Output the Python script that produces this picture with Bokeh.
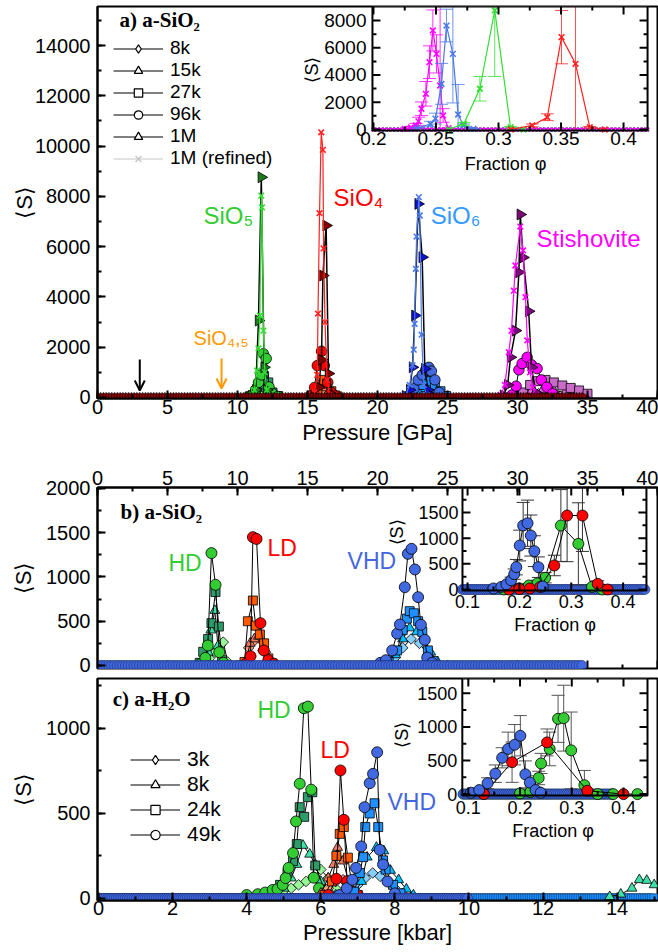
import numpy as np
from bokeh.plotting import figure
from bokeh.models import (Range1d, Legend, LegendItem, Arrow, OpenHead,
                          ColumnDataSource, SingleIntervalTicker)
from bokeh.layouts import column
from bokeh.embed import file_html
from bokeh.resources import INLINE
from bokeh.core.properties import value

SANS = "Liberation Sans"
SERIF = "Liberation Serif"

# ======================= DATA =======================
# ---- panel a) a-SiO2 : <S> vs pressure [GPa] ----
A_SIO5 = {
    "8k":  ([10.6, 11.0, 11.4, 11.8, 12.2, 12.6, 13.0], [20, 60, 150, 250, 200, 90, 30]),
    "15k": ([10.8, 11.2, 11.6, 12.0, 12.4, 12.8], [40, 150, 350, 420, 200, 60]),
    "27k": ([10.9, 11.3, 11.6, 11.9, 12.2, 12.5, 12.9], [50, 250, 550, 850, 600, 200, 60]),
    "96k": ([11.0, 11.3, 11.5, 11.7, 11.85, 12.05, 12.25, 12.5, 12.9], [80, 300, 600, 900, 1740, 1550, 420, 150, 40]),
    "1M":  ([11.0, 11.3, 11.5, 11.7, 11.9, 12.1, 12.4], [60, 300, 3060, 8760, 1200, 300, 60]),
    "ref": ([11.0, 11.2, 11.4, 11.5, 11.6, 11.7, 11.75, 11.85, 11.95, 12.1, 12.3],
            [100, 300, 1070, 1950, 3260, 8030, 7560, 2660, 1000, 300, 80]),
}
A_SIO4 = {
    "8k":  ([15.0, 15.4, 15.8, 16.2, 16.6, 17.0, 17.4], [30, 80, 200, 280, 200, 80, 30]),
    "15k": ([15.2, 15.6, 16.0, 16.3, 16.6, 17.0], [60, 200, 400, 380, 200, 60]),
    "27k": ([15.3, 15.7, 16.0, 16.2, 16.4, 16.7, 17.0], [80, 300, 650, 700, 550, 250, 80]),
    "96k": ([15.3, 15.5, 15.7, 16.0, 16.2, 16.45, 16.7, 17.0], [80, 400, 1270, 1840, 1270, 600, 200, 60]),
    "1M":  ([15.5, 15.8, 16.0, 16.1, 16.33, 16.5, 16.8], [80, 400, 1500, 4850, 6840, 950, 100]),
    "ref": ([15.5, 15.7, 15.75, 15.86, 15.98, 16.1, 16.15, 16.25, 16.4, 16.6],
            [200, 900, 3340, 7330, 10550, 9850, 5930, 3000, 700, 100]),
}
A_SIO6 = {
    "8k":  ([22.0, 22.6, 23.2, 23.8, 24.4, 25.0], [30, 100, 200, 250, 150, 50]),
    "15k": ([22.2, 22.7, 23.2, 23.7, 24.2, 24.7], [50, 200, 350, 400, 250, 80]),
    "27k": ([22.4, 22.8, 23.2, 23.5, 23.8, 24.1, 24.5, 24.9], [50, 250, 500, 700, 650, 500, 250, 60]),
    "96k": ([22.3, 22.6, 22.9, 23.2, 23.45, 23.67, 23.85, 24.1, 24.4], [100, 350, 700, 900, 1100, 1200, 1050, 700, 200]),
    "1M":  ([22.0, 22.3, 22.5, 22.67, 22.9, 23.19, 23.38, 23.6, 23.9], [60, 300, 1200, 3260, 7700, 5580, 1140, 300, 60]),
    "ref": ([22.0, 22.3, 22.5, 22.59, 22.65, 22.74, 22.79, 22.95, 23.02, 23.15, 23.3, 23.5],
            [100, 500, 1280, 1900, 2930, 5120, 6400, 7970, 7240, 2500, 500, 100]),
}
A_STI = {
    "8k":  ([29.5, 30.5, 31.5, 32.5, 33.5, 34.5], [20, 80, 150, 180, 130, 60]),
    "15k": ([29.5, 30.3, 31.0, 31.8, 32.6, 33.4, 34.2, 35.0], [30, 120, 250, 300, 280, 200, 120, 50]),
    "27k": ([29.8, 30.4, 30.9, 31.4, 32.0, 32.6, 33.2, 33.8, 34.4, 35.0], [40, 200, 500, 650, 700, 600, 480, 380, 280, 150]),
    "96k": ([29.6, 29.9, 30.1, 30.33, 30.69, 31.0, 31.4, 31.7, 32.1, 32.5], [100, 450, 1100, 1350, 1600, 1300, 1150, 700, 410, 150]),
    "1M":  ([29.0, 29.3, 29.5, 29.86, 30.1, 30.2, 30.4, 30.8, 31.0, 31.3], [80, 500, 1600, 2660, 4980, 7280, 5570, 3430, 1200, 200]),
    "ref": ([28.8, 29.1, 29.38, 29.57, 29.74, 29.85, 30.2, 30.4, 30.57, 30.7, 30.9, 31.1, 31.3],
            [100, 500, 1800, 2660, 4250, 5250, 6800, 5850, 3990, 2270, 1000, 400, 100]),
}
A_BASE_P = np.arange(0.0, 34.81, 0.2)          # pressures where <S> ~ 0

# inset a: <S> vs fraction phi (1M refined), with error
IA_MAG = ([0.225, 0.23, 0.234, 0.236, 0.2384, 0.2419, 0.2448, 0.2475, 0.2504, 0.2533, 0.2557, 0.26],
          [50, 150, 300, 600, 1520, 2620, 4940, 7270, 5550, 3230, 1030, 100],
          [30, 80, 150, 300, 500, 900, 1200, 1500, 1400, 6000, 500, 50])
IA_BLU = ([0.235, 0.2456, 0.2496, 0.2544, 0.2584, 0.2635, 0.2677, 0.272, 0.28],
          [100, 400, 800, 3350, 7630, 5550, 1100, 300, 50],
          [50, 200, 400, 1500, 1200, 3600, 2200, 100, 20])
IA_GRN = ([0.26, 0.2723, 0.2851, 0.297, 0.3096, 0.32],
          [0, 420, 2990, 8740, 170, 0],
          [0, 100, 900, 4850, 50, 0])
IA_RED = ([0.31, 0.327, 0.339, 0.3504, 0.3616, 0.373, 0.385],
          [0, 300, 900, 6780, 4820, 170, 0],
          [0, 100, 250, 1960, 9000, 50, 0])
IA_BASE = np.arange(0.2, 0.4201, 0.003)

# ---- panel b) a-SiO2 ----
B_HD = {
    "8k":  ([7.6, 8.0, 8.4, 8.8, 8.98, 9.3], [20, 80, 150, 230, 264, 40]),
    "15k": ([7.6, 7.9, 8.1, 8.38, 8.6, 8.9], [30, 150, 400, 621, 220, 40]),
    "27k": ([7.3, 7.55, 7.9, 8.14, 8.43, 8.67, 8.9], [30, 155, 300, 478, 830, 440, 60]),
    "96k": ([7.4, 7.7, 7.88, 8.14, 8.43, 8.7, 9.0], [20, 85, 226, 1270, 912, 150, 30]),
}
B_LD = {
    "8k":  ([10.4, 10.8, 11.2, 11.6, 12.0, 12.4], [30, 200, 280, 300, 150, 40]),
    "15k": ([10.6, 10.9, 11.2, 11.5, 11.8, 12.1], [40, 250, 300, 330, 200, 60]),
    "27k": ([10.5, 10.74, 11.1, 11.3, 11.6, 11.9, 12.2, 12.5], [40, 500, 734, 450, 350, 250, 80, 20]),
    "96k": ([10.6, 10.93, 11.1, 11.36, 11.64, 11.88, 12.2, 12.6], [20, 105, 1450, 1430, 478, 170, 60, 20]),
}
B_VHD = {
    "8k":  ([20.5, 21.2, 21.8, 22.4, 23.0, 23.6, 24.2], [20, 80, 200, 300, 250, 120, 30]),
    "15k": ([20.6, 21.3, 21.8, 22.3, 22.8, 23.3, 23.8, 24.3], [30, 120, 300, 424, 380, 330, 150, 40]),
    "27k": ([20.8, 21.4, 21.8, 22.1, 22.3, 22.6, 22.9, 23.2, 23.6, 24.0], [40, 170, 400, 530, 614, 590, 500, 380, 170, 50]),
    "96k": ([20.2, 20.6, 21.05, 21.4, 21.6, 21.95, 22.17, 22.43, 22.67, 22.9, 23.1, 23.38, 23.55, 23.9],
            [30, 60, 170, 360, 463, 885, 1262, 1318, 1085, 772, 460, 290, 90, 30]),
}
B_BASE_P = np.arange(0.0, 34.61, 0.2)

IB_BLU = ([0.15, 0.165, 0.175, 0.184, 0.19, 0.194, 0.2006, 0.2072, 0.2157, 0.222, 0.2288, 0.2366, 0.245],
          [20, 50, 100, 180, 300, 435, 857, 1247, 1292, 1052, 747, 435, 60],
          [10, 20, 40, 60, 100, 150, 300, 450, 450, 400, 300, 200, 40])
IB_RED = ([0.18, 0.2, 0.22, 0.24, 0.2673, 0.292, 0.3216, 0.351, 0.37],
          [0, 10, 20, 50, 468, 1442, 1442, 110, 0],
          [0, 5, 10, 20, 200, 900, 700, 60, 0])
IB_GRN = ([0.17, 0.2, 0.2183, 0.235, 0.2496, 0.28, 0.3137, 0.34, 0.36],
          [0, 20, 78, 120, 228, 1247, 890, 50, 0],
          [0, 10, 40, 60, 100, 700, 800, 40, 0])
IB_BASE = np.arange(0.09, 0.4451, 0.004)

# ---- panel c) a-H2O : <S> vs pressure [kbar] ----
C_HD = {
    "3k":  ([4.6, 4.8, 5.0, 5.2, 5.4, 5.6, 5.8, 6.0, 6.2, 6.4], [20, 30, 45, 60, 80, 100, 130, 170, 120, 60]),
    "8k":  ([4.8, 5.0, 5.2, 5.35, 5.52, 5.7, 5.85, 6.0, 6.2, 6.4], [30, 60, 120, 200, 312, 260, 200, 100, 40, 20]),
    "24k": ([4.6, 4.9, 5.1, 5.25, 5.35, 5.43, 5.55, 5.65, 5.77, 5.85, 6.1], [30, 80, 150, 220, 320, 537, 480, 596, 625, 194, 50]),
    "49k": ([4.0, 4.3, 4.5, 4.7, 4.83, 4.97, 5.05, 5.13, 5.25, 5.33, 5.43, 5.54, 5.65, 5.74, 5.81, 5.95, 6.1],
            [20, 25, 35, 50, 55, 80, 120, 180, 267, 453, 675, 1119, 1129, 640, 122, 60, 30]),
}
C_HD_HIGH = ([13.8, 14.1, 14.4, 14.6, 14.8, 15.0], [10, 25, 60, 110, 106, 80])
C_LD = {
    "3k":  ([6.0, 6.2, 6.4, 6.6, 6.8, 7.0], [20, 60, 100, 110, 70, 20]),
    "8k":  ([6.0, 6.2, 6.35, 6.45, 6.6, 6.75, 6.9], [30, 120, 200, 300, 220, 100, 20]),
    "24k": ([6.1, 6.3, 6.42, 6.51, 6.62, 6.73, 6.85, 7.0], [20, 100, 250, 380, 420, 240, 60, 20]),
    "49k": ([6.2, 6.42, 6.53, 6.62, 6.71, 6.85, 7.0], [20, 116, 753, 463, 102, 40, 20]),
}
C_VHD = {
    "3k":  ([6.8, 7.0, 7.2, 7.4, 7.6, 7.8, 8.0, 8.2], [30, 80, 120, 150, 130, 100, 60, 30]),
    "8k":  ([6.9, 7.1, 7.25, 7.5, 7.7, 7.88, 8.1, 8.31, 8.5], [30, 100, 243, 300, 280, 165, 110, 55, 20]),
    "24k": ([6.9, 7.05, 7.14, 7.2, 7.32, 7.45, 7.55, 7.68, 7.75, 7.95, 8.15], [40, 150, 243, 420, 500, 560, 420, 224, 170, 80, 30]),
    "49k": ([6.5, 6.7, 6.85, 6.95, 7.09, 7.18, 7.32, 7.41, 7.52, 7.59, 7.68, 7.8, 8.0],
            [20, 60, 110, 180, 306, 537, 678, 733, 860, 286, 200, 100, 30]),
}
C_BASE_SQ = np.arange(0.0, 15.01, 0.06)
C_BASE_CI = np.arange(0.0, 10.01, 0.06)

IC_BLU = ([0.105, 0.121, 0.1373, 0.1522, 0.1654, 0.177, 0.1896, 0.2006, 0.2103, 0.219, 0.23, 0.24],
          [20, 60, 162, 304, 540, 672, 735, 868, 294, 172, 60, 20],
          [10, 30, 80, 130, 150, 250, 300, 300, 200, 100, 40, 10])
IC_RED = ([0.13, 0.1846, 0.2522, 0.33, 0.40], [0, 475, 769, 50, 0], [0, 300, 200, 0, 0])
IC_GRN = ([0.2, 0.22, 0.236, 0.2406, 0.2573, 0.2735, 0.2844, 0.2989, 0.3244, 0.35, 0.38, 0.427],
          [10, 30, 240, 456, 672, 1120, 1130, 651, 132, 0, 0, 0],
          [5, 20, 100, 150, 250, 350, 490, 570, 220, 0, 0, 0])
IC_BASE = np.arange(0.09, 0.381, 0.004)

# ======================= STYLE =======================
SHAPE = {"diamond": ("square", np.pi / 4, 7.5), "triangle": ("triangle", 0.0, 10),
         "square": ("square", 0.0, 9), "circle": ("circle", 0.0, 10.5),
         "tri_r": ("triangle", -np.pi / 2, 11), "x": ("x", 0.0, 8)}
LEG_MARK = {"diamond": "diamond", "triangle": "triangle", "square": "square",
            "circle": "circle", "tri_r": "triangle", "x": "x"}
SHAPE_A = {"8k": "diamond", "15k": "triangle", "27k": "square", "96k": "circle", "1M": "tri_r", "ref": "x"}
SHAPE_C = {"3k": "diamond", "8k": "triangle", "24k": "square", "49k": "circle"}

FAM = {
    "green": {"diamond": "#98f598", "triangle": "#3ee0a8", "square": "#2e9b6b", "circle": "#33cc33",
              "tri_r": "#1d7a1d", "x": "#33dd33"},
    "red": {"diamond": "#ffa07a", "triangle": "#f57a62", "square": "#ff5a00", "circle": "#ff0000",
            "tri_r": "#800000", "x": "#ff2020"},
    "blue": {"diamond": "#87cefa", "triangle": "#00bfff", "square": "#1e90ff", "circle": "#4169e1",
             "tri_r": "#1010c8", "x": "#4a78e6"},
    "mag": {"diamond": "#f0a8f0", "triangle": "#e070e0", "square": "#c86cc8", "circle": "#ff00ff",
            "tri_r": "#7a0a7a", "x": "#ff00ff"},
}
TICK_FS = "20px"
TITLE_FS = "22px"


def style_axis(ax):
    ax.major_tick_in = 8
    ax.major_tick_out = 0
    ax.minor_tick_in = 4
    ax.minor_tick_out = 0
    ax.axis_line_width = 2
    ax.major_tick_line_width = 2
    ax.minor_tick_line_width = 2
    ax.major_label_text_font = SANS
    ax.major_label_text_font_size = TICK_FS
    ax.major_label_text_color = "black"
    ax.axis_label_text_font = SANS
    ax.axis_label_text_font_style = "normal"
    ax.axis_label_text_font_size = TITLE_FS
    ax.axis_label_text_color = "black"


def base_fig(height, xr, yr, mb, **kw):
    p = figure(width=658, height=height, x_range=xr, y_range=yr,
               min_border_left=97, min_border_right=1,
               min_border_top=mb[0], min_border_bottom=mb[1],
               output_backend="svg", toolbar_location=None, **kw)
    p.xgrid.visible = False
    p.ygrid.visible = False
    p.outline_line_color = "black"
    p.outline_line_width = 2
    p.background_fill_color = "white"
    p.border_fill_color = "white"
    return p


def kwr(rn):
    return {} if rn is None else dict(x_range_name=rn, y_range_name=rn)


def series(p, P, S, shape, fill, line_color="black", lw=1.0, rn=None, mlw=0.8, size=None):
    mk, ang, sz = SHAPE[shape]
    if size is not None:
        sz = size
    p.line(list(P), list(S), line_color=line_color, line_width=lw, **kwr(rn))
    if mk == "x":
        p.scatter(list(P), list(S), marker="x", size=sz, line_color=fill, line_width=1.6, **kwr(rn))
    else:
        p.scatter(list(P), list(S), marker=mk, angle=ang, size=sz, fill_color=fill,
                  line_color="black", line_width=mlw, **kwr(rn))


def errbars(p, P, S, E, color, rn, cap=13, lw=1.0, alpha=1.0):
    P = np.asarray(P, float)
    S = np.asarray(S, float)
    E = np.asarray(E, float)
    m = E > 0
    x = P[m]
    lo = np.maximum(S - E, 0)[m]
    hi = (S + E)[m]
    p.segment(x0=x, y0=lo, x1=x, y1=hi, line_color=color, line_width=lw, line_alpha=alpha, **kwr(rn))
    ml = (S - E)[m] > 0
    cx = np.concatenate([x, x[ml]])
    cy = np.concatenate([hi, lo[ml]])
    p.scatter(cx, cy, marker="dash", size=cap, line_color=color, line_width=lw, line_alpha=alpha, **kwr(rn))


def text(p, x, y, t, color="black", fs="24px", font=SANS, style="normal", align="left",
         baseline="middle", angle=0.0, xo=0, yo=0, rn=None):
    p.text(x=[x], y=[y], text=[t], text_color=color, text_font=value(font), text_font_size=fs,
           text_font_style=style, text_align=align, text_baseline=baseline, angle=angle,
           x_offset=xo, y_offset=yo, **kwr(rn))


def extra(main_lo, main_hi, box_lo, box_hi, in_lo, in_hi):
    k = (in_hi - in_lo) / (box_hi - box_lo)
    return Range1d(in_lo - (box_lo - main_lo) * k, in_hi + (main_hi - box_hi) * k)


def inset_frame(p, rn, xr, yr):
    p.quad(left=[xr[0]], right=[xr[1]], bottom=[yr[0]], top=[yr[1]], fill_color="white",
           line_color=None, **kwr(rn))


def edge_ticks(p, xs, y, L, angle, rn=None):
    p.ray(x=list(xs), y=[y] * len(xs), length=L, angle=angle, length_units="screen",
          line_color="black", line_width=2, **kwr(rn))


def inset_axes(p, rn, xr, yr, xmaj, xmin_, ymaj, ymin_, xlab, ylab, fs, tfs,
               xl_off, xt_off, xt_x, yl_off, yt_off, yt_y):
    k = kwr(rn)
    xlo, xhi = xr
    ylo, yhi = yr
    p.quad(left=[xlo], right=[xhi], bottom=[ylo], top=[yhi], fill_color=None,
           line_color="black", line_width=2, **k)
    for vals, L in ((xmaj, 8), (xmin_, 4)):
        edge_ticks(p, vals, ylo, L, np.pi / 2, rn)
        edge_ticks(p, vals, yhi, L, -np.pi / 2, rn)
    for vals, L in ((ymaj, 8), (ymin_, 4)):
        n = len(vals)
        p.ray(x=[xlo] * n, y=vals, length=L, angle=0.0, length_units="screen",
              line_color="black", line_width=2, **k)
        p.ray(x=[xhi] * n, y=vals, length=L, angle=np.pi, length_units="screen",
              line_color="black", line_width=2, **k)
    p.text(x=xmaj, y=[ylo] * len(xmaj), text=xlab, text_font=value(SANS), text_font_size=fs,
           text_align="center", text_baseline="top", y_offset=xl_off, text_color="black", **k)
    p.text(x=[xlo] * len(ymaj), y=ymaj, text=ylab, text_font=value(SANS), text_font_size=fs,
           text_align="right", text_baseline="middle", x_offset=yl_off, text_color="black", **k)
    text(p, xt_x, ylo, "Fraction φ", fs=tfs, align="center", baseline="top", yo=xt_off, rn=rn)
    text(p, xlo, yt_y, "⟨S⟩", fs=tfs, align="center", baseline="middle", angle=np.pi / 2,
         xo=yt_off, rn=rn)


def make_legend(p, entries, loc, fs, h, spacing):
    items = []
    for label, shape, lc in entries:
        src = ColumnDataSource(dict(x=[np.nan], y=[np.nan]))
        mk = LEG_MARK[shape]
        r1 = p.line("x", "y", source=src, line_color=lc, line_width=1.2)
        if mk == "x":
            r2 = p.scatter("x", "y", source=src, marker="x", size=10, line_color=lc, line_width=1.5)
        else:
            r2 = p.scatter("x", "y", source=src, marker=mk, size=11,
                           fill_color="white", line_color=lc, line_width=1.2)
        items.append(LegendItem(label=label, renderers=[r1, r2]))
    leg = Legend(items=items, location=loc, label_text_font=SANS, label_text_font_size=fs,
                 label_text_color="black", glyph_width=50, glyph_height=h, label_height=h,
                 spacing=spacing, padding=0, margin=0, background_fill_alpha=0,
                 border_line_alpha=0, label_standoff=7)
    p.add_layout(leg)


# ======================= PANEL A =======================
pa = base_fig(450, Range1d(0, 40), Range1d(-40, 15553), (6, 52))
pa.xaxis.ticker = SingleIntervalTicker(interval=5, num_minor_ticks=2)
pa.yaxis.ticker = SingleIntervalTicker(interval=2000, num_minor_ticks=2)
pa.xaxis.axis_label = "Pressure [GPa]"
pa.yaxis.axis_label = "⟨S⟩"
for ax in pa.xaxis + pa.yaxis:
    style_axis(ax)
pa.xaxis.major_label_standoff = 1
pa.xaxis.axis_label_standoff = 3
pa.yaxis.major_label_standoff = 7
pa.yaxis.axis_label_standoff = -5

for data, fam in ((A_SIO5, "green"), (A_SIO4, "red"), (A_SIO6, "blue"), (A_STI, "mag")):
    for key in ("8k", "15k", "27k", "96k", "1M", "ref"):
        P, S = data[key]
        shp = SHAPE_A[key]
        if key == "ref":
            series(pa, P, S, shp, FAM[fam]["x"], line_color=FAM[fam]["x"], lw=1.2)
        elif key == "1M":
            series(pa, P, S, shp, FAM[fam][shp], lw=1.5)
        else:
            series(pa, P, S, shp, FAM[fam][shp])
pa.scatter(A_BASE_P, np.zeros_like(A_BASE_P), marker="triangle", angle=-np.pi / 2, size=10,
           fill_color="#8b0000", line_color="black", line_width=0.6)

text(pa, 1.57, 15000, "a) a-SiO₂", fs="21px", font=SERIF, style="bold")
text(pa, 7.57, 7240, "SiO₅", color="#33cc33")
text(pa, 16.86, 7955, "SiO₄", color="#ff0000")
text(pa, 23.8, 7240, "SiO₆", color="#3399ff")
text(pa, 31.36, 6325, "Stishovite", color="#ff00ff")
text(pa, 6.86, 2347, "SiO₄,₅", color="#ff9900", fs="20px")
pa.add_layout(Arrow(end=OpenHead(size=10, line_width=2, line_color="black"),
                    x_start=3.02, y_start=1510, x_end=3.02, y_end=280,
                    line_width=2, line_color="black"))
pa.add_layout(Arrow(end=OpenHead(size=10, line_width=2, line_color="#ff9900"),
                    x_start=8.86, y_start=1550, x_end=8.86, y_end=360,
                    line_width=2, line_color="#ff9900"))

make_legend(pa, [("8k", "diamond", "black"), ("15k", "triangle", "black"),
                 ("27k", "square", "black"), ("96k", "circle", "black"),
                 ("1M", "tri_r", "black"), ("1M (refined)", "x", "#c8c8c8")],
            (16, 229), "19px", 21, 0)

# inset a
IA_X, IA_Y = (0.1992, 0.4192), (-73, 9028)
pa.extra_x_ranges = {"ia": extra(0, 40, 19.64, 39.29, *IA_X)}
pa.extra_y_ranges = {"ia": extra(-40, 15553, 10621, 15553, *IA_Y)}
inset_frame(pa, "ia", IA_X, IA_Y)
for xs, fam in ((IA_BASE, "red"), (IA_BASE, "green"), (IA_BASE, "blue"), (IA_BASE, "mag")):
    pa.scatter(xs, np.zeros_like(xs), marker="x", size=5, line_color=FAM[fam]["x"],
               line_width=1.2, x_range_name="ia", y_range_name="ia")
for d, fam in ((IA_MAG, "mag"), (IA_BLU, "blue"), (IA_GRN, "green"), (IA_RED, "red")):
    c = FAM[fam]["x"]
    errbars(pa, d[0], d[1], d[2], c, "ia", cap=13, lw=1.0, alpha=0.8)
    series(pa, d[0], d[1], "x", c, line_color=c, lw=1.2, rn="ia")
inset_axes(pa, "ia", IA_X, IA_Y,
           [0.2, 0.25, 0.3, 0.35, 0.4], [0.225, 0.275, 0.325, 0.375],
           [0, 2000, 4000, 6000, 8000], [1000, 3000, 5000, 7000],
           ["0.2", "0.25", "0.3", "0.35", "0.4"], ["0", "2000", "4000", "6000", "8000"],
           "19px", "18px", 2, 24, 0.3056, -6, -60, 4400)

# ======================= PANEL B =======================
pb = base_fig(226, Range1d(0, 40), Range1d(-34, 2011), (37, 8), x_axis_location="above")
pb.xaxis.ticker = SingleIntervalTicker(interval=5, num_minor_ticks=2)
pb.yaxis.ticker = SingleIntervalTicker(interval=500, num_minor_ticks=2)
pb.yaxis.axis_label = "⟨S⟩"
for ax in pb.xaxis + pb.yaxis:
    style_axis(ax)
pb.xaxis.major_label_standoff = 3
pb.yaxis.major_label_standoff = 7
pb.yaxis.axis_label_standoff = 7
# ticks (no labels) along the bottom edge of panel b
edge_ticks(pb, [0, 5, 10, 15, 20, 25, 30, 35, 40], -34, 8, np.pi / 2)
edge_ticks(pb, [2.5, 7.5, 12.5, 17.5, 22.5, 27.5, 32.5, 37.5], -34, 4, np.pi / 2)

for data, fam in ((B_HD, "green"), (B_LD, "red"), (B_VHD, "blue")):
    for key in ("8k", "15k", "27k", "96k"):
        P, S = data[key]
        shp = SHAPE_A[key]
        series(pb, P, S, shp, FAM[fam][shp], size=(11 if shp == "circle" else None))
pb.scatter(B_BASE_P, np.zeros_like(B_BASE_P), marker="circle", size=10,
           fill_color="#4169e1", line_color="#1a2a66", line_width=0.6)

text(pb, 1.64, 1729, "b) a-SiO₂", fs="21px", font=SERIF, style="bold")
text(pb, 5.07, 1153, "HD", color="#33cc33", fs="23px")
text(pb, 12.14, 1333, "LD", color="#ff0000", fs="23px")
text(pb, 17.86, 1175, "VHD", color="#4466dd", fs="23px")

IB_X, IB_Y = (0.0902, 0.445), (-20, 1988)
pb.extra_x_ranges = {"ib": extra(0, 40, 26.07, 39.21, *IB_X)}
pb.extra_y_ranges = {"ib": extra(-34, 2011, 847, 2011, *IB_Y)}
inset_frame(pb, "ib", IB_X, IB_Y)
pb.scatter(IB_BASE, np.zeros_like(IB_BASE), marker="circle", size=10, fill_color="#4169e1",
           line_color="#1a2a66", line_width=0.6, x_range_name="ib", y_range_name="ib")
for d, fam in ((IB_GRN, "green"), (IB_RED, "red"), (IB_BLU, "blue")):
    errbars(pb, d[0], d[1], d[2], "#333333", "ib", cap=13, lw=1.0)
for d, fam in ((IB_GRN, "green"), (IB_RED, "red"), (IB_BLU, "blue")):
    series(pb, d[0], d[1], "circle", FAM[fam]["circle"], rn="ib", size=11)
inset_axes(pb, "ib", IB_X, IB_Y,
           [0.1, 0.2, 0.3, 0.4], [0.15, 0.25, 0.35],
           [0, 500, 1000, 1500], [250, 750, 1250, 1750],
           ["0.1", "0.2", "0.3", "0.4"], ["0", "500", "1000", "1500"],
           "18px", "18px", 4, 24, 0.269, -4, -65, 1111)

# ======================= PANEL C =======================
pc = base_fig(276, Range1d(-0.03, 15.09), Range1d(-12, 1294), (2, 52))
pc.xaxis.ticker = SingleIntervalTicker(interval=2, num_minor_ticks=2)
pc.yaxis.ticker = SingleIntervalTicker(interval=500, num_minor_ticks=2)
pc.xaxis.axis_label = "Pressure [kbar]"
pc.yaxis.axis_label = "⟨S⟩"
for ax in pc.xaxis + pc.yaxis:
    style_axis(ax)
pc.xaxis.major_label_standoff = 0
pc.xaxis.axis_label_standoff = 2
pc.yaxis.major_label_standoff = 7
pc.yaxis.axis_label_standoff = 7

pc.scatter(C_BASE_SQ, np.zeros_like(C_BASE_SQ), marker="square", size=9,
           fill_color="#1e90ff", line_color="#0a3a77", line_width=0.6)
for data, fam in ((C_HD, "green"), (C_LD, "red"), (C_VHD, "blue")):
    for key in ("3k", "8k", "24k", "49k"):
        P, S = data[key]
        shp = SHAPE_C[key]
        series(pc, P, S, shp, FAM[fam][shp], size=(11 if shp == "circle" else None))
series(pc, C_HD_HIGH[0], C_HD_HIGH[1], "triangle", FAM["green"]["triangle"])
pc.scatter(C_BASE_CI, np.zeros_like(C_BASE_CI), marker="circle", size=10,
           fill_color="#4169e1", line_color="#1a2a66", line_width=0.6)

text(pc, 0.38, 1176, "c) a-H₂O", fs="21px", font=SERIF, style="bold")
text(pc, 4.29, 1106, "HD", color="#33cc33", fs="23px")
text(pc, 5.99, 876, "LD", color="#ff0000", fs="23px")
text(pc, 7.8, 570, "VHD", color="#4466dd", fs="23px")

make_legend(pc, [("3k", "diamond", "black"), ("8k", "triangle", "black"),
                 ("24k", "square", "black"), ("49k", "circle", "black")],
            (33, 54), "21px", 23, 1)

IC_X, IC_Y = (0.0884, 0.4464), (-20, 1720)
pc.extra_x_ranges = {"ic": extra(-0.03, 15.09, 9.82, 14.82, *IC_X)}
pc.extra_y_ranges = {"ic": extra(-12, 1294, 606, 1294, *IC_Y)}
inset_frame(pc, "ic", IC_X, IC_Y)
pc.scatter(IC_BASE, np.zeros_like(IC_BASE), marker="circle", size=10, fill_color="#33cc33",
           line_color="#145214", line_width=0.6, x_range_name="ic", y_range_name="ic")
pc.scatter(IC_BASE, np.zeros_like(IC_BASE), marker="circle", size=10, fill_color="#4169e1",
           line_color="#1a2a66", line_width=0.6, x_range_name="ic", y_range_name="ic")
for d in (IC_GRN, IC_RED, IC_BLU):
    errbars(pc, d[0], d[1], d[2], "#555555", "ic", cap=13, lw=1.0)
for d, fam in ((IC_GRN, "green"), (IC_RED, "red"), (IC_BLU, "blue")):
    series(pc, d[0], d[1], "circle", FAM[fam]["circle"], rn="ic", size=11)
inset_axes(pc, "ic", IC_X, IC_Y,
           [0.1, 0.2, 0.3, 0.4], [0.15, 0.25, 0.35],
           [0, 500, 1000, 1500], [250, 750, 1250],
           ["0.1", "0.2", "0.3", "0.4"], ["0", "500", "1000", "1500"],
           "18px", "18px", 6, 26, 0.264, -5, -60, 882)

layout = column(pa, pb, pc, spacing=0)
open("out.html", "w").write(file_html(layout, INLINE))
